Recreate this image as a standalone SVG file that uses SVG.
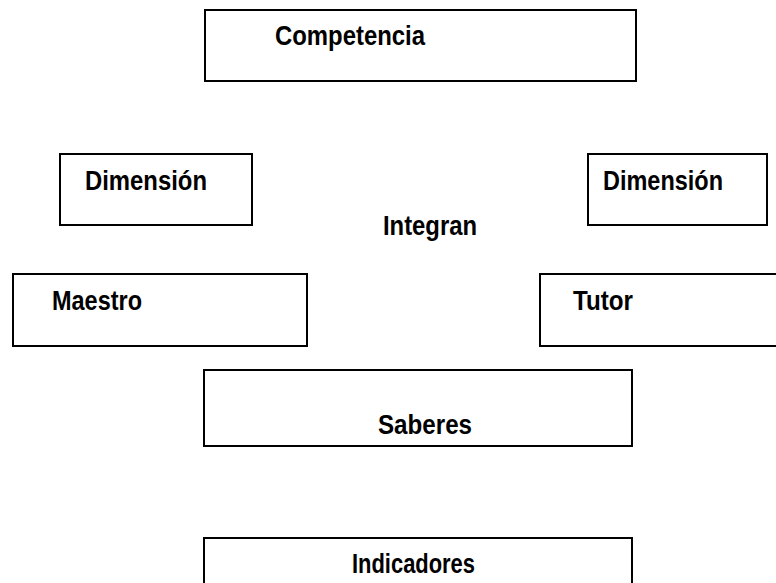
<svg xmlns="http://www.w3.org/2000/svg" width="776" height="583" viewBox="0 0 776 583">
<style>
.box{fill:#fff;stroke:#000;stroke-width:2}
.t{font-family:"Liberation Sans Narrow","Liberation Sans",Arial,sans-serif;font-weight:bold;font-size:27px;fill:#000}
</style>
<rect width="776" height="583" fill="#fff"/>
<g id="competencia"><rect class="box" x="205" y="10" width="431" height="71"/><text class="t" x="275" y="45" textLength="150" lengthAdjust="spacingAndGlyphs">Competencia</text></g>
<g id="dimension-izq"><rect class="box" x="60" y="154" width="192" height="71"/><text class="t" x="85" y="190" textLength="122" lengthAdjust="spacingAndGlyphs">Dimensión</text></g>
<g id="dimension-der"><rect class="box" x="588" y="154" width="179" height="71"/><text class="t" x="603" y="190" textLength="120" lengthAdjust="spacingAndGlyphs">Dimensión</text></g>
<g id="integran"><text class="t" x="383" y="235" textLength="94" lengthAdjust="spacingAndGlyphs">Integran</text></g>
<g id="maestro"><rect class="box" x="13" y="274" width="294" height="72"/><text class="t" x="52" y="310" textLength="90" lengthAdjust="spacingAndGlyphs">Maestro</text></g>
<g id="tutor"><rect class="box" x="540" y="274" width="250" height="72"/><text class="t" x="573" y="310" textLength="60" lengthAdjust="spacingAndGlyphs">Tutor</text></g>
<g id="saberes"><rect class="box" x="204" y="370" width="428" height="76"/><text class="t" x="378" y="434" textLength="94" lengthAdjust="spacingAndGlyphs">Saberes</text></g>
<g id="indicadores"><rect class="box" x="204" y="538" width="428" height="60"/><text class="t" x="352" y="573" textLength="123" lengthAdjust="spacingAndGlyphs">Indicadores</text></g>
<g id="connectors"></g>
</svg>
